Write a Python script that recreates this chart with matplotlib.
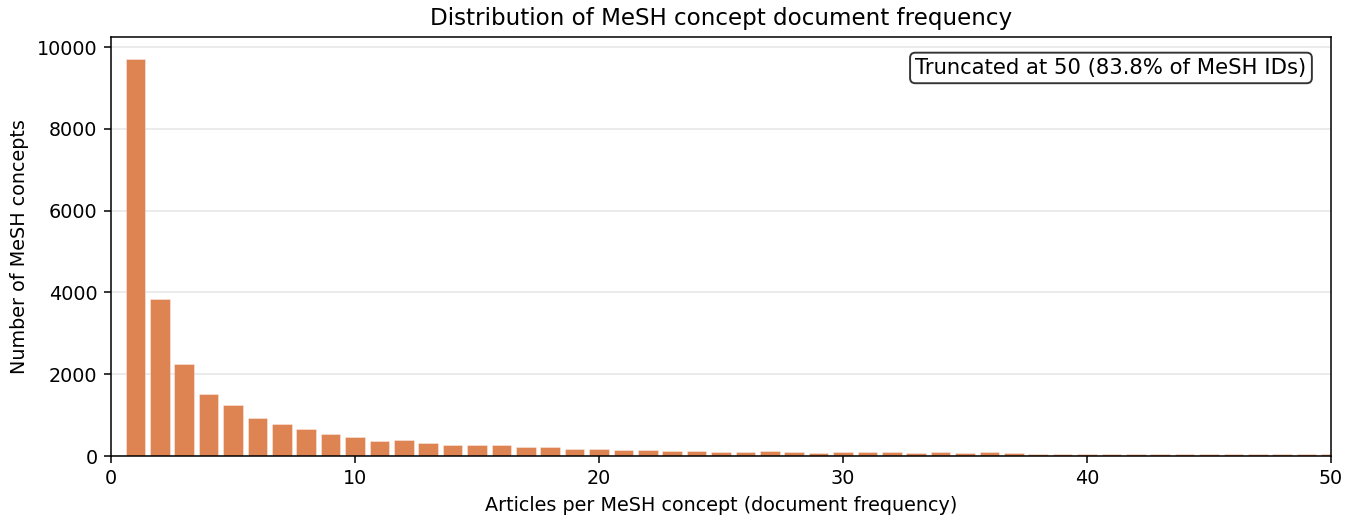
import numpy as np
import matplotlib
matplotlib.use("Agg")
import matplotlib.pyplot as plt

# document frequency (articles per MeSH concept) and number of concepts
doc_freq = list(range(1, 51))
n_concepts = [9700, 3830, 2250, 1520, 1240, 940, 780, 650, 530, 460,
              360, 380, 310, 260, 260, 260, 225, 225, 160, 160,
              150, 150, 130, 130, 100, 110, 130, 100, 75, 100,
              90, 90, 75, 90, 75, 90, 75, 60, 60, 50,
              60, 50, 60, 60, 50, 50, 50, 50, 50, 50]
truncate_at = 50
pct_kept = 83.8

DPI = 138
fig = plt.figure(figsize=(1352 / DPI, 525 / DPI), dpi=DPI)
ax = fig.add_axes([111 / 1352, 1 - 456 / 525, (1331 - 111) / 1352, (456 - 37) / 525])

ax.bar(doc_freq, n_concepts, width=0.8, color="#dd8452", edgecolor=(1, 1, 1, 0.6),
       linewidth=0.3, zorder=2)
ax.set_xlim(0, truncate_at)
ax.set_ylim(0, 10250)
ax.grid(axis="y", color="#e6e6e6", linewidth=0.8, zorder=0)
ax.set_axisbelow(True)

ax.set_title("Distribution of MeSH concept document frequency", fontsize=12)
ax.set_xlabel("Articles per MeSH concept (document frequency)", fontsize=10)
ax.set_ylabel("Number of MeSH concepts", fontsize=10)
ax.tick_params(labelsize=10)

ax.text(0.98, 0.95, f"Truncated at {truncate_at} ({pct_kept}% of MeSH IDs)",
        transform=ax.transAxes, ha="right", va="top", fontsize=11,
        bbox=dict(boxstyle="round,pad=0.25", facecolor="white", edgecolor="#333333"))

fig.savefig("out.png", dpi=DPI)
